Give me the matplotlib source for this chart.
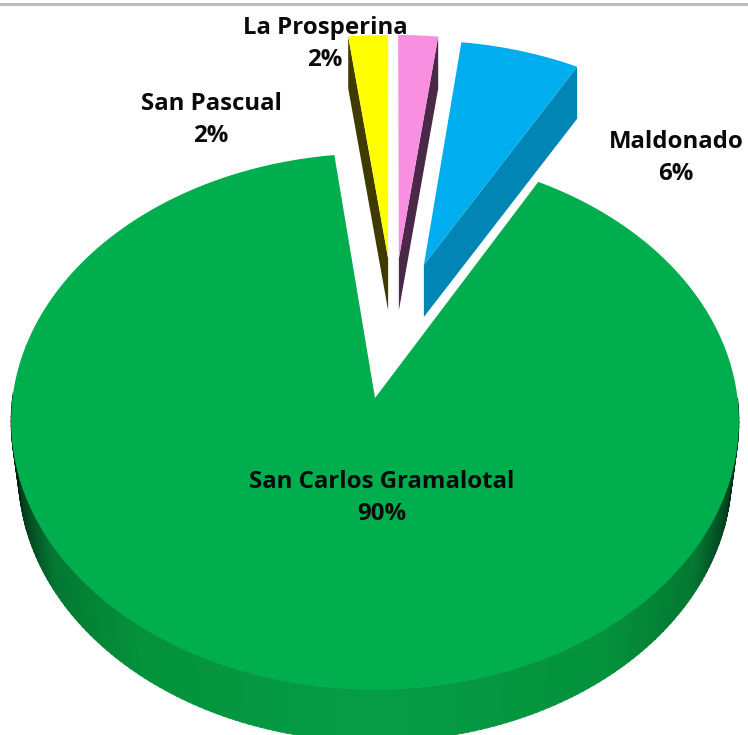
import numpy as np
import matplotlib
matplotlib.use("Agg")
import matplotlib.pyplot as plt

# Datos del grafico
zonas = ["San Carlos Gramalotal", "San Pascual", "La Prosperina", "Maldonado"]
valores = [90, 2, 2, 6]
colores = ["#00AE4E", "#FFFF00", "#F98FE0", "#00AEEF"]
colores_corte = [None, "#3F3B00", "#4A2848", "#0085B5"]
# desplazamiento de cada porcion en el plano del pastel
desplaz = [(0.0, 0.0), (0.038, 0.55), (0.069, 0.55), (0.141, 0.523)]
pos_etq = [(382, 498), (211, 120), (325, 44), (676, 158)]

# Parametros de la perspectiva (pixeles)
x0, y0 = 375, 398
A, B, k = 266, 362.5, 0.0875
alto = 52
esc_base = 0.98  # la cara de abajo se ve un poco mas chica
inicio = 29  # grados desde el norte, sentido horario


def proy(u, v):
    w = 1 + k * v
    return x0 + B * u / w, y0 - A * v / w


def base(x):
    return x0 + (x - x0) * esc_base


def arco(a1, a2, centro):
    t = np.radians(np.linspace(a1, a2, max(int(abs(a2 - a1) * 2), 2)))
    return centro[0] + np.sin(t), centro[1] + np.cos(t)


fig = plt.figure(figsize=(7.48, 7.35), dpi=100)
ax = fig.add_axes([0, 0, 1, 1])
ax.set_xlim(0, 748)
ax.set_ylim(735, 0)
ax.axis("off")
ax.plot([0, 748], [3.5, 3.5], color="#BDBDBD", lw=2.2, zorder=1)

limites = inicio + np.cumsum([0] + valores) * 3.6

# lateral de la porcion grande, con sombra segun la posicion
for a in np.arange(90, 270.5, 1.0):
    ua, va = arco(a, a + 1.2, desplaz[0])
    xa, ya = proy(ua, va)
    xs = np.r_[xa, base(xa[::-1])]
    ys = np.r_[ya, ya[::-1] + alto]
    m = abs(np.sin(np.radians(a)))
    c = (np.interp(m, [0, 0.6, 0.85, 0.96, 1], [6, 4, 3, 2, 0]),
         np.interp(m, [0, 0.6, 0.85, 0.96, 1], [156, 146, 120, 62, 25]),
         np.interp(m, [0, 0.6, 0.85, 0.96, 1], [70, 60, 50, 28, 12]))
    ax.fill(xs, ys, color=np.array(c) / 255, lw=0.6, zorder=2)

# caras de corte visibles de las porciones chicas
for i in [1, 2, 3]:
    a1, a2 = limites[i], limites[i + 1]
    borde = a1 if i == 1 else a2
    u = [desplaz[i][0], desplaz[i][0] + np.sin(np.radians(borde))]
    v = [desplaz[i][1], desplaz[i][1] + np.cos(np.radians(borde))]
    xc, yc = proy(np.array(u), np.array(v))
    ax.fill(np.r_[xc, xc[::-1]], np.r_[yc, yc[::-1] + alto],
            color=colores_corte[i], lw=0, zorder=3)

# caras superiores
for i in range(len(valores)):
    ua, va = arco(limites[i], limites[i + 1], desplaz[i])
    us = np.r_[desplaz[i][0], ua]
    vs = np.r_[desplaz[i][1], va]
    xs, ys = proy(us, vs)
    ax.fill(xs, ys, color=colores[i], lw=0, zorder=4)

# etiquetas
for z, val, (xe, ye) in zip(zonas, valores, pos_etq):
    ax.text(xe, ye, f"{z}\n{val}%", ha="center", va="center", family="Open Sans",
            weight="bold", fontsize=17.3, color="#0A0A0A", linespacing=1.43, zorder=6)

fig.savefig("out.png", dpi=100)
